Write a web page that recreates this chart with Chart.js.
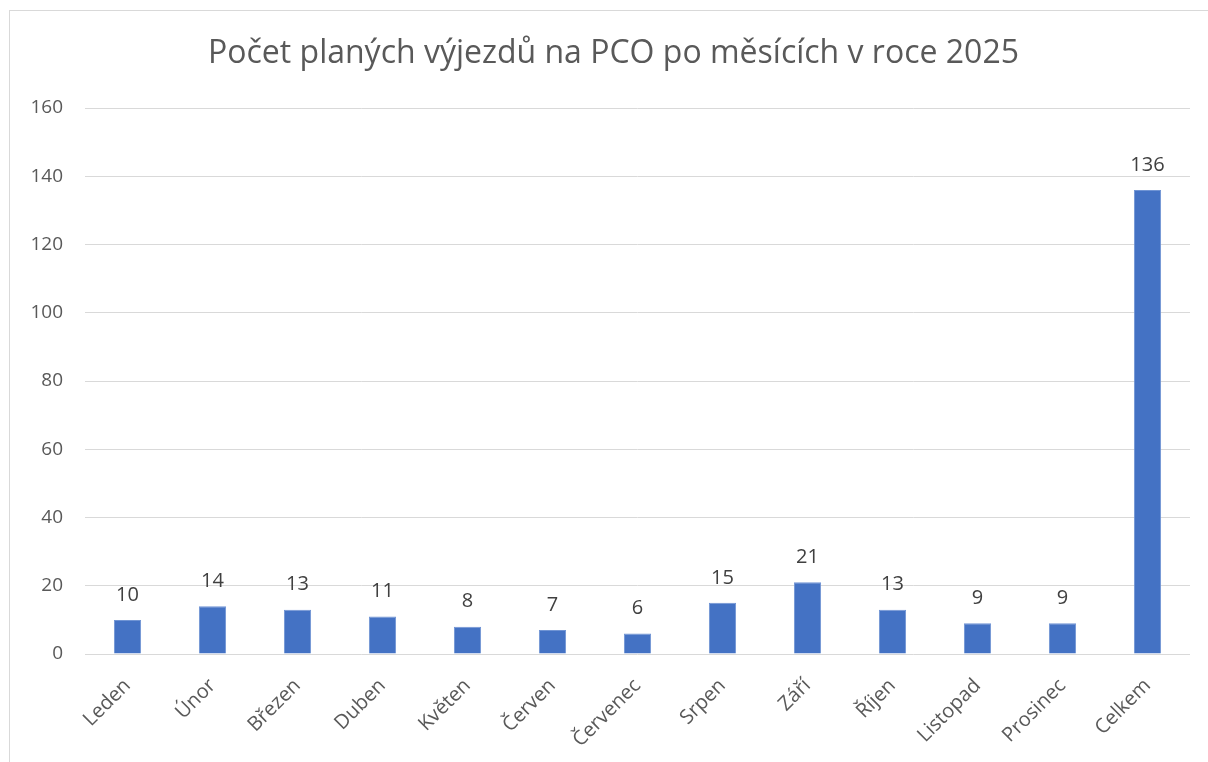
<!DOCTYPE html>
<html><head><meta charset="utf-8">
<script src="https://cdn.jsdelivr.net/npm/chart.js@4/dist/chart.umd.min.js"></script>
<style>
html,body{margin:0;padding:0;background:#fff;overflow:hidden;}
#wrap{position:absolute;left:0;top:0;width:1208px;height:762px;}
#frame{position:absolute;left:9px;top:10px;width:1300px;height:900px;border:1px solid #d9d9d9;box-sizing:border-box;}
canvas{position:absolute;left:0;top:0;}
</style></head><body>
<div id="wrap"><div id="frame"></div><canvas id="c" width="1208" height="762"></canvas></div>
<script>
const titleText = "Počet planých výjezdů na PCO po měsících v roce 2025";
const categories = ["Leden","Únor","Březen","Duben","Květen","Červen","Červenec","Srpen","Září","Říjen","Listopad","Prosinec","Celkem"];
const values = [10,14,13,11,8,7,6,15,21,13,9,9,136];
const yTicks = [0,20,40,60,80,100,120,140,160];

const FONT = "'Open Sans', 'Noto Sans', sans-serif";

const dataLabels = {
  id: 'dataLabels',
  afterDatasetsDraw(chart) {
    const ctx = chart.ctx;
    const meta = chart.getDatasetMeta(0);
    ctx.save();
    ctx.font = "20px " + FONT;
    ctx.fillStyle = "#404040";
    ctx.textAlign = "center";
    ctx.textBaseline = "middle";
    meta.data.forEach((bar, i) => {
      ctx.fillText(String(values[i]), bar.x, bar.y - 25);
    });
    ctx.restore();
  }
};

const chartTitle = {
  id: 'chartTitle',
  afterDraw(chart) {
    const ctx = chart.ctx;
    ctx.save();
    ctx.font = "32px " + FONT;
    ctx.fillStyle = "#595959";
    ctx.textAlign = "center";
    ctx.textBaseline = "middle";
    ctx.fillText(titleText, 613.5, 54);
    ctx.restore();
  }
};

new Chart(document.getElementById('c'), {
  type: 'bar',
  data: {
    labels: categories,
    datasets: [{
      data: values,
      backgroundColor: '#4472C4',
      borderColor: '#7094d4',
      borderWidth: 1,
      barPercentage: 0.32,
      categoryPercentage: 1.0
    }]
  },
  options: {
    responsive: false,
    animation: false,
    layout: { padding: { left: 0, right: 18, top: 108, bottom: 0 } },
    plugins: {
      legend: { display: false },
      tooltip: { enabled: false },
      title: { display: false }
    },
    scales: {
      x: {
        grid: { display: false, drawTicks: false },
        border: { display: false },
        ticks: {
          color: '#595959',
          font: { family: FONT, size: 20 },
          maxRotation: 45, minRotation: 45,
          autoSkip: false,
          padding: 20
        },
        afterFit(s) { s.height = 108; }
      },
      y: {
        min: 0, max: 160,
        afterBuildTicks(s) { s.ticks = yTicks.map(v => ({ value: v })); },
        grid: { color: '#d9d9d9', lineWidth: 1, drawTicks: false },
        border: { display: false },
        ticks: {
          color: '#595959',
          font: { family: FONT, size: 19 },
          padding: 22
        },
        afterFit(s) { s.width = 85; }
      }
    }
  },
  plugins: [dataLabels, chartTitle]
});
</script>
</body></html>
